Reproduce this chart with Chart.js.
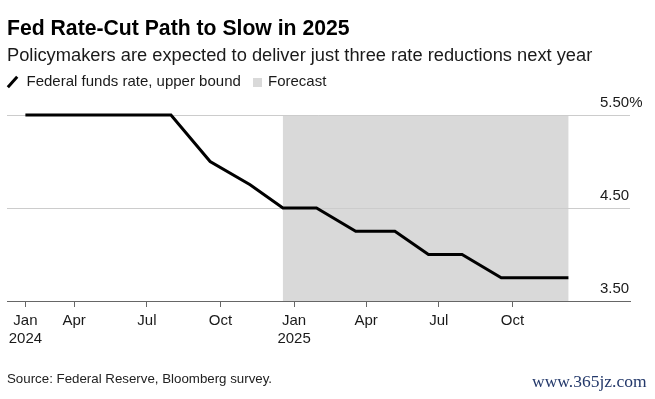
<!DOCTYPE html>
<html lang="en">
<head>
  <meta charset="UTF-8" />
  <title>Fed Rate-Cut Path to Slow in 2025</title>
  <style>
    html, body { margin: 0; padding: 0; background: #fff; }
    body { width: 655px; height: 399px; position: relative; overflow: hidden;
           font-family: "Liberation Sans", Arial, Helvetica, sans-serif; color: #111; }
    .txt { position: absolute; white-space: nowrap; line-height: 1; }
    #title { left: 7px; top: 17px; font-size: 21.2px; font-weight: bold; color: #000; }
    #subtitle { left: 7px; top: 46.3px; font-size: 18.3px; color: #1a1a1a; }
    #lg-line { left: 26.5px; top: 73.3px; font-size: 15px; color: #1a1a1a; }
    #lg-fc { left: 268px; top: 73.3px; font-size: 15px; color: #1a1a1a; }
    #slash { position: absolute; left: 11px; top: 75px; width: 3.2px; height: 14px; background: #000;
             transform: rotate(42deg); }
    #swatch { position: absolute; left: 253px; top: 77.5px; width: 9px; height: 9px; background: #d9d9d9; }
    #source { left: 7px; top: 372px; font-size: 13.3px; color: #222; }
    #mark { left: 532px; top: 373.3px; font-size: 17.5px; color: #23386a;
            font-family: "Liberation Serif", "DejaVu Serif", serif; }
    #wrap { position: absolute; left: 0; top: 0; width: 655px; height: 399px; }
  </style>
</head>
<body>
  <div id="wrap"><canvas id="rateChart"></canvas></div>
  <div class="txt" id="title">Fed Rate-Cut Path to Slow in 2025</div>
  <div class="txt" id="subtitle">Policymakers are expected to deliver just three rate reductions next year</div>
  <div id="slash"></div>
  <div class="txt" id="lg-line">Federal funds rate, upper bound</div>
  <div id="swatch"></div>
  <div class="txt" id="lg-fc">Forecast</div>
  <div class="txt" id="source">Source: Federal Reserve, Bloomberg survey.</div>
  <div class="txt" id="mark">www.365jz.com</div>

  <script src="https://cdn.jsdelivr.net/npm/chart.js"></script>
  <script>
    // FOMC meeting dates and the upper bound of the fed funds target (2025 = forecast)
    const meetingDates = ["2024-01-31", "2024-03-20", "2024-05-01", "2024-06-12", "2024-07-31",
                          "2024-09-18", "2024-11-07", "2024-12-18", "2025-01-29", "2025-03-19",
                          "2025-05-07", "2025-06-18", "2025-07-30", "2025-09-17", "2025-10-29",
                          "2025-12-10"];
    const upperBound = [5.50, 5.50, 5.50, 5.50, 5.50,
                        5.00, 4.75, 4.50, 4.50, 4.25,
                        4.25, 4.00, 4.00, 3.75, 3.75,
                        3.75];
    const forecastSpan = ["2024-12-18", "2025-12-10"];

    const xTickDates = ["2024-01-31", "2024-04-01", "2024-07-01", "2024-10-01",
                        "2025-01-01", "2025-04-01", "2025-07-01", "2025-10-01"];
    const xTickLabels = [["Jan", "2024"], "Apr", "Jul", "Oct", ["Jan", "2025"], "Apr", "Jul", "Oct"];
    const yTickValues = [3.5, 4.5, 5.5];
    const yTickLabels = ["3.50", "4.50", "5.50%"];

    const day = s => Date.parse(s) / 86400000;

    const forecastShade = {
      id: "forecastShade",
      beforeDraw(chart) {
        const { ctx, scales: { x, y } } = chart;
        const x0 = x.getPixelForValue(day(forecastSpan[0]));
        const x1 = x.getPixelForValue(day(forecastSpan[1]));
        const y0 = y.getPixelForValue(5.5);
        const y1 = y.getPixelForValue(3.5);
        ctx.save();
        ctx.fillStyle = "#d9d9d9";
        ctx.fillRect(x0, y0, x1 - x0, y1 - y0);
        ctx.restore();
      }
    };

    // y labels sit above their gridline, left-aligned near the right edge
    const yLabels = {
      id: "yLabels",
      afterDraw(chart) {
        const { ctx, scales: { y } } = chart;
        ctx.save();
        ctx.font = "15px 'Liberation Sans', Arial, sans-serif";
        ctx.fillStyle = "#1a1a1a";
        ctx.textAlign = "left";
        ctx.textBaseline = "alphabetic";
        yTickValues.forEach((v, i) => {
          ctx.fillText(yTickLabels[i], 600, y.getPixelForValue(v) - 8.5);
        });
        ctx.restore();
      }
    };

    new Chart(document.getElementById("rateChart"), {
      type: "line",
      data: {
        datasets: [{
          label: "Federal funds rate, upper bound",
          data: meetingDates.map((d, i) => ({ x: day(d), y: upperBound[i] })),
          borderColor: "#000",
          borderWidth: 3,
          pointRadius: 0,
          tension: 0,
          fill: false,
          clip: false
        }]
      },
      options: {
        responsive: true,
        maintainAspectRatio: false,
        animation: false,
        events: [],
        layout: { padding: { left: 7, right: 25, top: 115, bottom: 48 } },
        plugins: { legend: { display: false }, tooltip: { enabled: false } },
        scales: {
          x: {
            type: "linear",
            min: day("2024-01-08"),
            max: day("2026-02-25"),
            afterBuildTicks: scale => { scale.ticks = xTickDates.map(d => ({ value: day(d) })); },
            afterFit: scale => { scale.height = 50; },
            grid: { drawOnChartArea: false, drawTicks: true, tickLength: 6, tickColor: "#666", tickWidth: 1 },
            border: { display: true, color: "#666", width: 1 },
            ticks: {
              autoSkip: false,
              maxRotation: 0,
              padding: 5,
              color: "#1a1a1a",
              font: { family: "'Liberation Sans', Arial, sans-serif", size: 15, lineHeight: 1.2 },
              callback: (v, i) => xTickLabels[i]
            }
          },
          y: {
            min: 3.5,
            max: 5.5,
            afterBuildTicks: scale => { scale.ticks = yTickValues.map(v => ({ value: v })); },
            afterFit: scale => { scale.width = 0; },
            grid: {
              drawTicks: false,
              color: c => (c.tick && c.tick.value === 3.5 ? "rgba(0,0,0,0)" : "#cccccc"),
              lineWidth: 1
            },
            border: { display: false },
            ticks: { display: false }
          }
        }
      },
      plugins: [forecastShade, yLabels]
    });
  </script>
</body>
</html>
